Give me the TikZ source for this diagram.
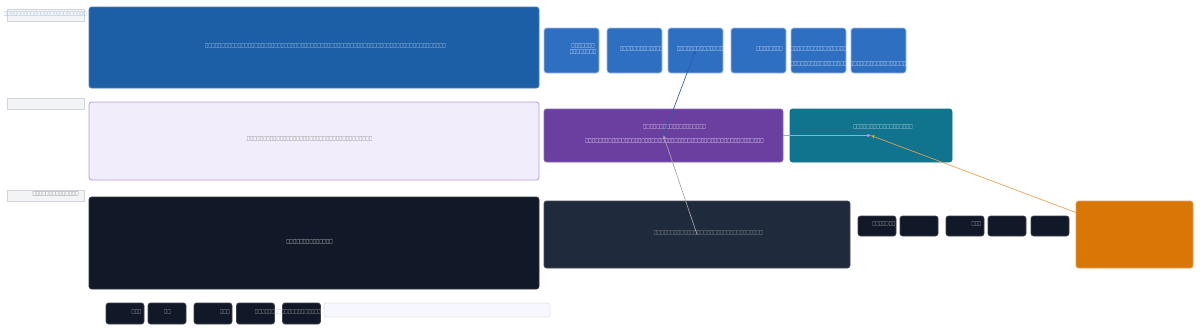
\documentclass[tikz,border=0pt]{standalone}
\usepackage{fontspec}
\usepackage{graphicx}
\usetikzlibrary{arrows.meta}
\newfontfamily\tofufont{DejaVu Sans}

\definecolor{bigblue}{HTML}{1C5FA6}
\definecolor{smallblue}{HTML}{2F6FC1}
\definecolor{lilac}{HTML}{F1EDFA}
\definecolor{lilacline}{HTML}{B79BDB}
\definecolor{navy}{HTML}{111827}
\definecolor{violet}{HTML}{6B3FA0}
\definecolor{tealbox}{HTML}{10748F}
\definecolor{slate}{HTML}{1F2A3C}
\definecolor{amber}{HTML}{D97706}
\definecolor{paper}{HTML}{F3F4F6}
\definecolor{paperline}{HTML}{D1D5DB}

% fila de caracters sense glif
\newcommand\tofus[1]{\scalebox{1}[1.7]{\foreach\k in {1,...,#1}{□}}}

\begin{document}
\begin{tikzpicture}[x=0.75pt,y=-0.75pt,
		sz/.style 2 args={minimum width=#1*0.75pt,minimum height=#2*0.75pt},
		card/.style={draw,rounded corners=2pt,inner sep=0pt,line width=0.6pt},
		tag/.style={draw=paperline,fill=paper,inner sep=0pt,line width=0.5pt},
		chip/.style={card,fill=navy,draw=navy!60!gray,sz={38}{20}},
		tile/.style={card,fill=smallblue,draw=smallblue!45!white,sz={55}{45}},
		txt/.style={inner sep=0pt,yshift=-0.75pt,font=\tofufont\fontsize{2.62}{3.2}\selectfont},
		link/.style={line width=0.5pt,-{Stealth[length=3pt,width=2.5pt]}}]
	\useasboundingbox (0,0) rectangle (1200,332);

	% Etiquetes de l'esquerra
	\node[tag,sz={77}{12}] (lab1) at (45.5,15) {};
	\node[tag,sz={77}{11}] (lab2) at (45.5,103.5) {};
	\node[tag,sz={77}{11}] (lab3) at (45.5,195.5) {};
	\node[txt,text=bigblue!55!white] (lab1t) at (45.5,13) {\tofus{25}};
	\node[txt,text=gray!85!black,anchor=east] (lab3t) at (79,193) {\tofus{14}};

	% Tres franges grans
	\node[card,fill=bigblue,draw=bigblue!80!white,sz={450}{81}] (big) at (314,47.5) {};
	\node[card,fill=lilac,draw=lilacline,sz={450}{78}] (light) at (314,141) {};
	\node[card,fill=navy,draw=navy!70!gray,sz={450}{92}] (dark) at (314,243) {};
	\node[txt,text=bigblue!25!white] (bigt) at (325.5,45) {\tofus{73}};
	\node[txt,text=gray!95!black] (lightt) at (309.5,138) {\tofus{38}};
	\node[txt,text=gray!20!white] (darkt) at (309.5,241) {\tofus{14}};

	% Fila de rajoles blaves
	\foreach \n/\x in {A/571.5,B/634.5,C/695.5,D/758.5,E/818.5,F/878.5} {
		\node[tile] (\n) at (\x,50.5) {};
	}
	\node[txt,text=white!90!smallblue] (At1) at (583,45) {\tofus{7}};
	\node[txt,text=white!90!smallblue] (At2) at (583,51) {\tofus{8}};
	\node[txt,text=white!90!smallblue] (Bt) at (641.5,48) {\tofus{13}};
	\node[txt,text=white!90!smallblue] (Ct) at (700,48) {\tofus{14}};
	\node[txt,text=white!90!smallblue] (Dt) at (769.5,48) {\tofus{8}};
	\node[txt,text=white!90!smallblue] (Et) at (818.5,48) {\tofus{17}};
	\node[txt,text=white!90!smallblue] (EFt) at (848.5,63) {\tofus{35}};

	% Caixes del mig
	\node[card,fill=violet,draw=violet!80!white,sz={239}{53}] (purple) at (663.5,135.5) {};
	\node[card,fill=tealbox,draw=tealbox,sz={162}{53}] (teal) at (871,135.5) {};
	\node[card,fill=slate,draw=slate!60!gray,sz={306}{67}] (slatebox) at (697,234.5) {};
	\node[card,fill=amber,draw=amber!70!white,sz={117}{67}] (orange) at (1134.5,234.5) {};
	\node[txt,text=white!88!violet] (pt1) at (674.5,126) {\tofus{19}};
	\node[txt,text=white] (pt2) at (674.5,140) {\tofus{54}};
	\node[txt,text=white!85!tealbox] (tt) at (883,126) {\tofus{18}};
	\node[txt,text=gray!70!white] (st) at (708.5,232) {\tofus{33}};

	% Fitxes fosques
	\foreach \n/\x in {d1/877,d2/919,d3/965,d4/1007,d5/1050} {
		\node[chip] (\n) at (\x,226) {};
	}
	\foreach \n/\x in {b1/125,b2/167,b3/213,b4/255.5,b5/301.5} {
		\node[chip,sz={38}{21}] (\n) at (\x,313.5) {};
	}
	\node[card,fill=white!97!blue,draw=gray!20,rounded corners=1.5pt,sz={226}{14}] (bar) at (437,310) {};
	\node[txt,text=gray!55!white,anchor=west] (d1t) at (872,223) {\tofus{7}};
	\node[txt,text=gray!55!white] (d3t) at (976.5,223) {\tofus{3}};
	\node[txt,text=gray!55!white] (b1t) at (136.5,311) {\tofus{3}};
	\node[txt,text=gray!55!white] (b2t) at (167.5,311) {\tofus{2}};
	\node[txt,text=gray!55!white] (b3t) at (225,311) {\tofus{3}};
	\node[txt,text=gray!55!white] (b45t) at (288,311) {\tofus{20}};

	% Enllacos
	\draw[link,draw=smallblue!85!black] (purple.center) -- (C.center);
	\draw[link,draw=gray!70] (slatebox.center) -- (purple.center);
	\draw[link,draw=lilacline] (purple.east) -- (teal.center);
	\draw[link,draw=amber!70!white] (orange) -- (teal.center);
\end{tikzpicture}
\end{document}
